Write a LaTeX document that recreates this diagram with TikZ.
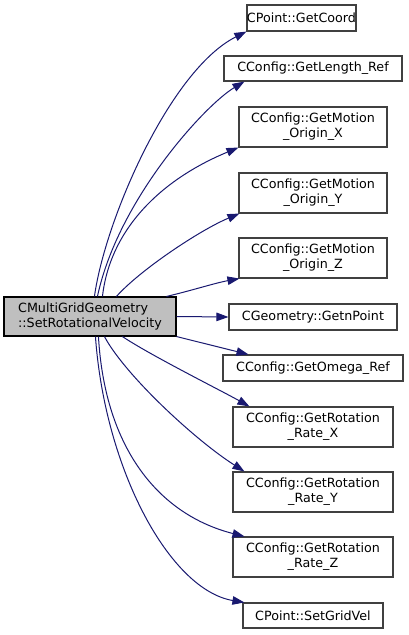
\documentclass[tikz,border=0pt]{standalone}
\usepackage{fontspec}
\setmainfont{DejaVu Sans}
\usetikzlibrary{arrows.meta}
\definecolor{edgeblue}{HTML}{191970}
\definecolor{boxgray}{HTML}{BFBFBF}
\definecolor{borderdark}{HTML}{404040}
\begin{document}
\begin{tikzpicture}[x=1pt,y=-1pt,
  fn/.style={draw=borderdark, line width=1.1pt, fill=white, rectangle, inner sep=0pt,
    align=center, font=\fontsize{12.7}{15}\selectfont},
  mainbox/.style={draw=black, line width=1.1pt, fill=boxgray, rectangle, inner sep=0pt,
    align=left, font=\fontsize{12.7}{15}\selectfont, minimum width=172pt, minimum height=39pt},
  call/.style={draw=edgeblue, line width=1pt, -{Triangle[length=12pt,width=8.5pt]}, fill=none}
]
\useasboundingbox (0,0) rectangle (408,635);

\node[mainbox] (main) at (90,316.5) {CMultiGridGeometry\\::SetRotationalVelocity};

\node[fn, minimum width=109pt, minimum height=26pt] (coord) at (301.5,18) {CPoint::GetCoord};
\node[fn, minimum width=178pt, minimum height=25pt] (len) at (313,68.5) {CConfig::GetLength\_Ref};
\node[fn, minimum width=148pt, minimum height=40pt] (ox) at (313,127) {CConfig::GetMotion\\\_Origin\_X};
\node[fn, minimum width=148pt, minimum height=40pt] (oy) at (313,193) {CConfig::GetMotion\\\_Origin\_Y};
\node[fn, minimum width=148pt, minimum height=40pt] (oz) at (313,258) {CConfig::GetMotion\\\_Origin\_Z};
\node[fn, minimum width=168pt, minimum height=26pt] (pt) at (313,317) {CGeometry::GetnPoint};
\node[fn, minimum width=180pt, minimum height=26pt] (omega) at (313,368) {CConfig::GetOmega\_Ref};
\node[fn, minimum width=160pt, minimum height=40pt] (rx) at (313,427) {CConfig::GetRotation\\\_Rate\_X};
\node[fn, minimum width=160pt, minimum height=40pt] (ry) at (313,492) {CConfig::GetRotation\\\_Rate\_Y};
\node[fn, minimum width=160pt, minimum height=40pt] (rz) at (313,557) {CConfig::GetRotation\\\_Rate\_Z};
\node[fn, minimum width=140pt, minimum height=25pt] (grid) at (313,615.5) {CPoint::SetGridVel};

\draw[call] ([xshift=91pt]main.north west) .. controls (105,220) and (170,70) .. (coord.south west);
\draw[call] ([xshift=94pt]main.north west) .. controls (118,200) and (205,105) .. ([xshift=21pt]len.south west);
\draw[call] ([xshift=99pt]main.north west) .. controls (110,230) and (160,180) .. (ox.south west);
\draw[call] ([xshift=113pt]main.north west) .. controls (140,270) and (200,230) .. ([xshift=1pt]oy.south west);
\draw[call] ([xshift=163pt]main.north west) .. controls (190,291) and (215,283) .. ([xshift=1pt]oz.south west);
\draw[call] (main.east) -- (pt.west);
\draw[call] (main.south east) -- ([xshift=26pt]omega.north west);
\draw[call] ([xshift=119pt]main.south west) .. controls (150,355) and (220,390) .. ([xshift=17pt]rx.north west);
\draw[call] ([xshift=101pt]main.south west) .. controls (125,375) and (195,440) .. ([xshift=12pt]ry.north west);
\draw[call] ([xshift=95pt]main.south west) .. controls (105,450) and (160,515) .. ([xshift=12pt]rz.north west);
\draw[call] ([xshift=92pt]main.south west) .. controls (105,470) and (170,590) .. ([xshift=2pt]grid.north west);
\end{tikzpicture}
\end{document}
